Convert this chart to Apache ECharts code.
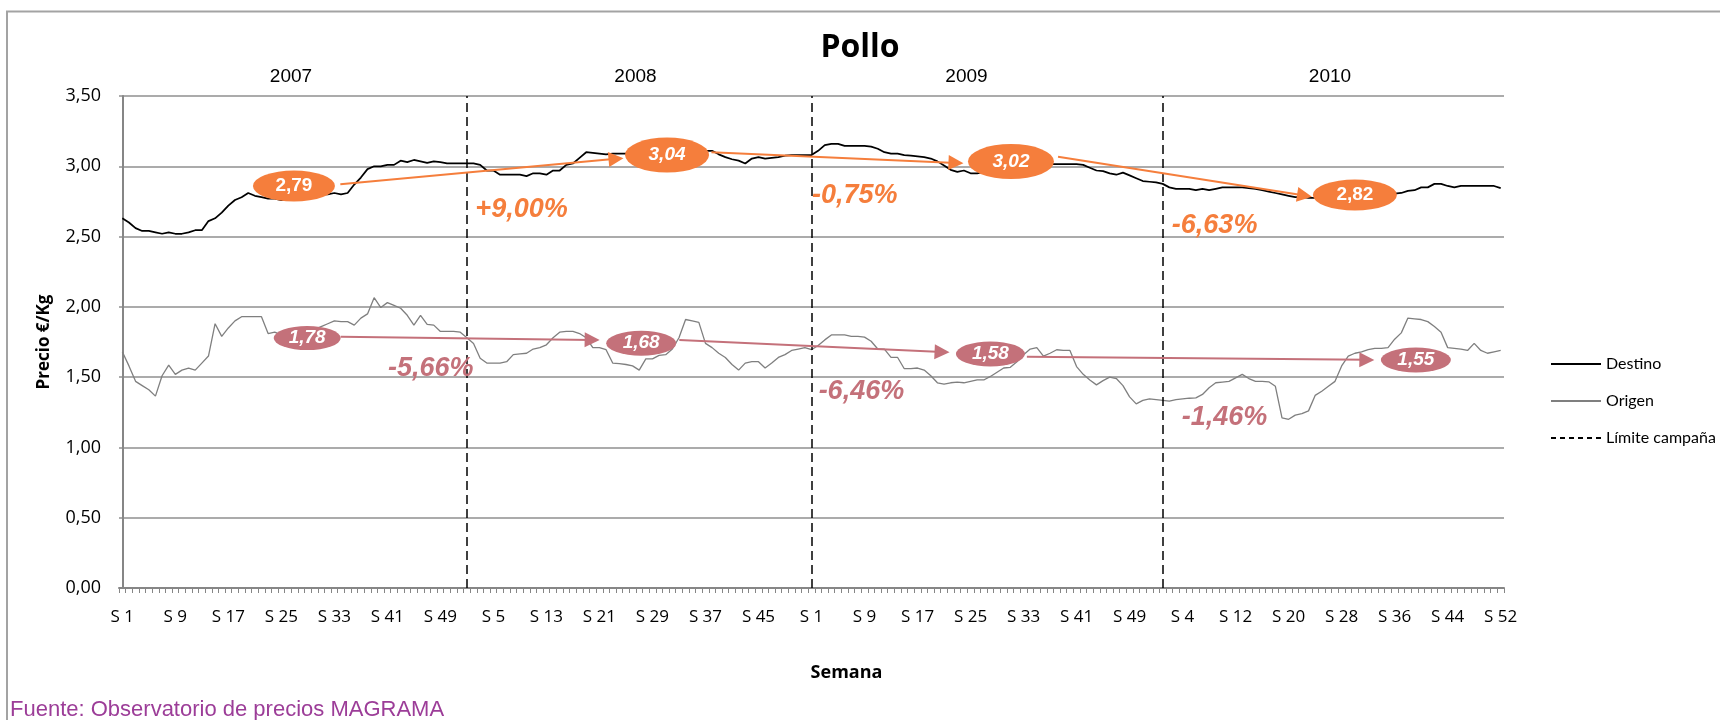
<!DOCTYPE html>
<html><head><meta charset="utf-8">
<script src="https://cdn.jsdelivr.net/npm/echarts@6/dist/echarts.min.js"></script>
<style>html,body{margin:0;padding:0;background:#fff}#c{width:1720px;height:720px}</style>
</head><body><div id="c"></div>
<script>
// ---------- DATA ----------
const years = ['2007', '2008', '2009', '2010'];
const weeksPerYear = [52, 52, 53, 52];

const destino2007 = [2.63,2.60,2.56,2.54,2.54,2.53,2.52,2.53,2.52,2.52,2.53,2.545,2.545,2.61,2.63,2.67,2.72,2.76,2.78,2.81,2.79,2.78,2.77,2.77,2.76,2.77,2.78,2.78,2.79,2.79,2.80,2.80,2.81,2.80,2.81,2.87,2.92,2.98,3.00,3.00,3.01,3.01,3.04,3.03,3.045,3.035,3.025,3.035,3.03,3.02,3.02,3.02];
const destino2008 = [3.02,3.02,3.01,2.97,2.97,2.94,2.94,2.94,2.94,2.93,2.95,2.95,2.94,2.97,2.97,3.01,3.02,3.06,3.10,3.095,3.09,3.085,3.09,3.09,3.09,3.09,3.09,3.09,3.10,3.10,3.10,3.10,3.10,3.10,3.10,3.11,3.11,3.11,3.085,3.065,3.05,3.04,3.02,3.055,3.065,3.055,3.06,3.065,3.075,3.08,3.08,3.08];
const destino2009 = [3.08,3.11,3.15,3.16,3.16,3.145,3.145,3.145,3.145,3.14,3.125,3.10,3.09,3.09,3.08,3.075,3.07,3.065,3.055,3.035,3.005,2.975,2.96,2.97,2.95,2.95,2.96,2.97,2.98,2.99,3.00,3.00,3.01,3.01,3.01,3.01,3.015,3.015,3.015,3.015,3.015,3.01,2.99,2.97,2.965,2.95,2.94,2.955,2.935,2.915,2.895,2.89,2.885];
const destino2010 = [2.875,2.85,2.84,2.84,2.84,2.83,2.84,2.83,2.84,2.85,2.85,2.85,2.85,2.845,2.84,2.83,2.82,2.81,2.80,2.79,2.78,2.78,2.775,2.775,2.77,2.77,2.77,2.77,2.775,2.78,2.78,2.785,2.79,2.79,2.80,2.805,2.81,2.825,2.83,2.85,2.85,2.875,2.875,2.86,2.85,2.86,2.86,2.86,2.86,2.86,2.86,2.845];

const origen2007 = [1.68,1.58,1.47,1.44,1.41,1.365,1.51,1.585,1.52,1.55,1.565,1.55,1.60,1.65,1.88,1.79,1.85,1.90,1.93,1.93,1.93,1.93,1.81,1.82,1.80,1.80,1.81,1.82,1.83,1.84,1.86,1.88,1.90,1.895,1.895,1.87,1.92,1.95,2.065,1.995,2.03,2.01,1.99,1.94,1.87,1.94,1.875,1.87,1.825,1.825,1.825,1.82];
const origen2008 = [1.78,1.74,1.635,1.60,1.60,1.60,1.61,1.66,1.665,1.67,1.70,1.71,1.73,1.78,1.82,1.825,1.825,1.81,1.78,1.71,1.71,1.695,1.60,1.596,1.59,1.58,1.55,1.63,1.63,1.655,1.66,1.70,1.78,1.91,1.90,1.89,1.74,1.71,1.67,1.64,1.59,1.55,1.60,1.61,1.61,1.565,1.60,1.64,1.66,1.69,1.70,1.71];
const origen2009 = [1.695,1.725,1.765,1.80,1.80,1.80,1.79,1.79,1.785,1.755,1.70,1.70,1.64,1.64,1.56,1.56,1.565,1.55,1.51,1.46,1.45,1.46,1.465,1.46,1.47,1.48,1.48,1.505,1.535,1.565,1.57,1.61,1.66,1.70,1.71,1.65,1.67,1.695,1.69,1.69,1.575,1.52,1.48,1.445,1.475,1.50,1.49,1.44,1.36,1.31,1.335,1.345,1.34];
const origen2010 = [1.335,1.33,1.34,1.345,1.35,1.353,1.377,1.425,1.46,1.465,1.47,1.495,1.52,1.49,1.47,1.47,1.467,1.435,1.21,1.20,1.23,1.24,1.26,1.37,1.40,1.435,1.47,1.58,1.65,1.67,1.68,1.695,1.705,1.705,1.71,1.77,1.815,1.92,1.915,1.91,1.895,1.86,1.82,1.71,1.705,1.70,1.69,1.74,1.69,1.67,1.68,1.69];

// campaign averages and variations (annotations)
const destinoMedias = ['2,79', '3,04', '3,02', '2,82'];
const origenMedias = ['1,78', '1,68', '1,58', '1,55'];
const destinoVariacion = ['+9,00%', '-0,75%', '-6,63%'];
const origenVariacion = ['-5,66%', '-6,46%', '-1,46%'];

// ---------- BUILD ----------
const categories = [];
years.forEach((y, k) => { for (let w = 1; w <= weeksPerYear[k]; w++) categories.push('S' + w); });
const destino = [].concat(destino2007, destino2008, destino2009, destino2010);
const origen = [].concat(origen2007, origen2008, origen2009, origen2010);
const campaignStarts = [];
let acc = 0;
weeksPerYear.forEach((n, k) => { if (k > 0) campaignStarts.push(acc); acc += n; });

const ORANGE = '#F57E3C', PINK = '#C4717A';
const FONT_C = 'Open Sans', FONT_A = 'Liberation Sans';

// annotation placement (in axis units: x = week index, y = price)
const dBubble = [
  {c: [25.9, 2.86], s: [82, 31], it: false},
  {c: [82.2, 3.08], s: [84, 35], it: true},
  {c: [134.1, 3.034], s: [86, 35], it: true},
  {c: [186, 2.796], s: [84, 31], it: false}
];
const oBubble = [
  {c: [27.9, 1.778], s: [67, 24], it: true},
  {c: [78.3, 1.741], s: [70, 25], it: true},
  {c: [131, 1.665], s: [69, 25], it: true},
  {c: [195.2, 1.622], s: [70, 25], it: true}
];
const dArrows = [[[32.9, 2.872], [74.5, 3.053]], [[88.9, 3.099], [125.8, 3.024]], [[141.2, 3.068], [178.4, 2.792]]];
const oArrows = [[[32.96, 1.788], [70.9, 1.765]], [[84.05, 1.764], [123.7, 1.679]], [[136.5, 1.645], [187.8, 1.623]]];
const dPct = [[53.2, 2.69], [104.0, 2.79], [158.3, 2.58]];
const oPct = [[40.0, 1.558], [105.0, 1.394], [159.8, 1.213]];

function bubbles(list, texts, color) {
  return list.map((b, i) => ({
    coord: b.c, symbol: 'circle', symbolSize: b.s,
    itemStyle: {color: color},
    label: {show: true, position: 'inside', formatter: texts[i], color: '#fff', fontSize: 19,
      fontWeight: 'bold', fontStyle: b.it ? 'italic' : 'normal', fontFamily: FONT_A}
  }));
}
function pcts(list, texts, color) {
  return list.map((p, i) => ({
    coord: p, symbol: 'rect', symbolSize: 1, itemStyle: {color: 'rgba(0,0,0,0)'},
    label: {show: true, position: 'right', distance: 0, formatter: texts[i], color: color, fontSize: 27,
      fontWeight: 'bold', fontStyle: 'italic', fontFamily: FONT_A}
  }));
}
function arrows(list) {
  return list.map(a => [{coord: a[0]}, {coord: a[1]}]);
}

const yearLabelX = [291, 635.5, 966.5, 1330];

const chart = echarts.init(document.getElementById('c'));
chart.setOption({
  animation: false,
  backgroundColor: '#fff',
  title: {text: 'Pollo', left: 'center', top: 27,
    textStyle: {fontFamily: FONT_C, fontSize: 32, fontWeight: 'bold', color: '#000'}},
  grid: {left: 119, right: 216, top: 96, bottom: 132, containLabel: false},
  legend: {
    orient: 'vertical', left: 1545, top: 349, itemWidth: 50, itemHeight: 14, itemGap: 17,
    data: ['Destino', 'Origen', 'Límite campaña'],
    itemStyle: {opacity: 0},
    textStyle: {fontFamily: 'Lato', fontSize: 16, color: '#000', lineHeight: 20},
    selectedMode: false
  },
  xAxis: [{
    type: 'category', data: categories, boundaryGap: true,
    axisLine: {lineStyle: {color: '#868686', width: 2}},
    axisTick: {show: true, interval: 0, length: 5, lineStyle: {color: '#868686', width: 1}},
    axisLabel: {interval: 7, margin: 21, fontFamily: FONT_C, fontSize: 17, color: '#000',
      formatter: v => v.replace('S', 'S ')},
    splitLine: {show: false},
    name: 'Semana', nameLocation: 'middle', nameGap: 76,
    nameTextStyle: {fontFamily: FONT_C, fontSize: 18, fontWeight: 'bold', color: '#000', padding: [0, 0, 0, 70]}
  }, {
    type: 'value', min: -0.5, max: categories.length - 0.5, show: false
  }],
  yAxis: {
    type: 'value', min: 0, max: 3.5, interval: 0.5,
    axisLine: {show: true, lineStyle: {color: '#868686', width: 2}},
    axisTick: {show: false},
    axisLabel: {margin: 18, fontFamily: FONT_C, fontSize: 18, color: '#000',
      formatter: v => v.toFixed(2).replace('.', ',')},
    splitLine: {lineStyle: {color: '#8f8f8f', width: 1.5}},
    name: 'Precio €/Kg', nameLocation: 'middle', nameRotate: 90, nameGap: 66,
    nameTextStyle: {fontFamily: FONT_C, fontSize: 17, fontWeight: 'bold', color: '#000'}
  },
  series: [
    {name: 'Destino', type: 'line', data: destino, symbol: 'none', z: 3,
      lineStyle: {color: '#000', width: 1.75}, itemStyle: {color: '#000'}},
    {name: 'Origen', type: 'line', data: origen, symbol: 'none', z: 3,
      lineStyle: {color: '#7f7f7f', width: 1.3}, itemStyle: {color: '#7f7f7f'}},
    {name: 'Límite campaña', type: 'line', data: [], symbol: 'none', z: 2,
      lineStyle: {color: '#000', width: 1.5, type: [5, 4]}, itemStyle: {color: '#000'},
      markLine: {silent: true, symbol: 'none', label: {show: false},
        lineStyle: {color: '#000', width: 1.5, type: [9, 5]},
        data: campaignStarts.map(i => ({xAxis: i}))}},
    {name: 'annot-destino', type: 'line', xAxisIndex: 1, data: [], z: 6,
      markLine: {silent: true, symbol: ['none', 'triangle'], symbolSize: 15, label: {show: false},
        lineStyle: {color: ORANGE, width: 2, type: 'solid'}, data: arrows(dArrows)},
      markPoint: {silent: true, data: bubbles(dBubble, destinoMedias, ORANGE).concat(pcts(dPct, destinoVariacion, ORANGE))}},
    {name: 'annot-origen', type: 'line', xAxisIndex: 1, data: [], z: 6,
      markLine: {silent: true, symbol: ['none', 'triangle'], symbolSize: 15, label: {show: false},
        lineStyle: {color: PINK, width: 2, type: 'solid'}, data: arrows(oArrows)},
      markPoint: {silent: true, data: bubbles(oBubble, origenMedias, PINK).concat(pcts(oPct, origenVariacion, PINK))}}
  ],
  graphic: [
    {type: 'rect', shape: {x: 7, y: 11.5, width: 1800, height: 800}, style: {fill: 'none', stroke: '#a3a3a3', lineWidth: 2}, silent: true},
    {type: 'text', left: 10, top: 699, style: {text: 'Fuente: Observatorio de precios MAGRAMA', fill: '#9C3D98', font: '22px "Liberation Sans"'}, silent: true}
  ].concat(years.map((y, k) => ({
    type: 'text', x: yearLabelX[k], y: 77, silent: true,
    style: {text: y, fill: '#000', font: '19px "Liberation Sans"', textAlign: 'center', textVerticalAlign: 'middle'}
  })))
});
</script>
</body></html>
